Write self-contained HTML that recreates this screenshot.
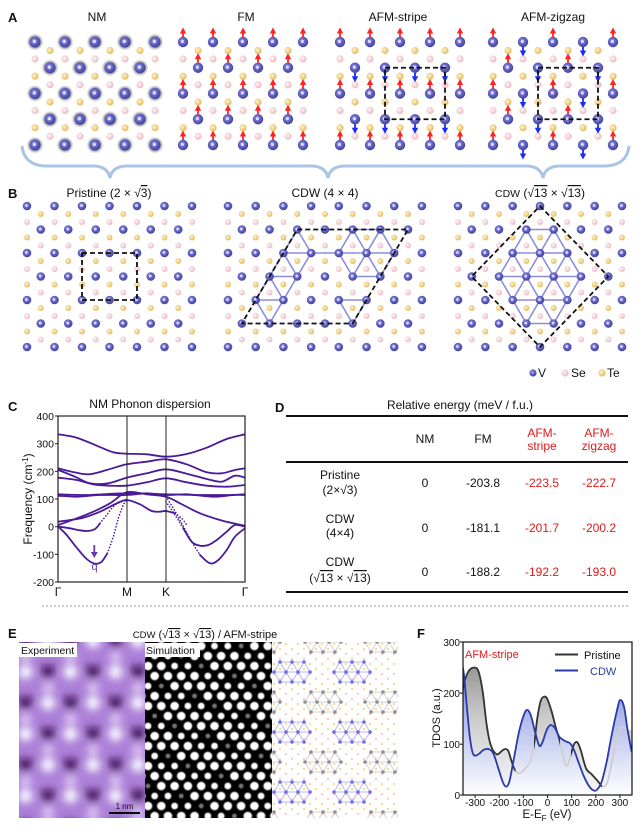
<!DOCTYPE html>
<html><head><meta charset="utf-8"><title>figure</title>
<style>
html,body{margin:0;padding:0;background:#fff;}
svg{display:block;}
text{font-family:"Liberation Sans",Arial,Helvetica,sans-serif;fill:#111;}
.b{font-weight:bold;font-size:13px;}
.t12{font-size:12px;}
.t11{font-size:11px;}
.t10{font-size:10px;}
.red{fill:#e01a1a;}
.ov{text-decoration:overline;}
</style></head><body>
<svg id="S" xmlns="http://www.w3.org/2000/svg" width="640" height="828" viewBox="0 0 640 828">
<defs>
<radialGradient id="gV" cx="0.42" cy="0.4" r="0.6"><stop offset="0" stop-color="#c8c8ff"/><stop offset="0.3" stop-color="#7676d6"/><stop offset="1" stop-color="#3f3f9c"/></radialGradient>
<radialGradient id="gSe" cx="0.4" cy="0.4" r="0.65"><stop offset="0" stop-color="#fff6f6"/><stop offset="1" stop-color="#eab4bc"/></radialGradient>
<radialGradient id="gTe" cx="0.4" cy="0.4" r="0.65"><stop offset="0" stop-color="#fff2cc"/><stop offset="1" stop-color="#e2b658"/></radialGradient>
<radialGradient id="gH"><stop offset="0.55" stop-color="#7a7a7a"/><stop offset="1" stop-color="#9a9a9a" stop-opacity="0"/></radialGradient>
<linearGradient id="gBlue" x1="0" y1="642" x2="0" y2="795" gradientUnits="userSpaceOnUse"><stop offset="0" stop-color="#4c5cc4"/><stop offset="0.45" stop-color="#aab4e8"/><stop offset="1" stop-color="#ffffff"/></linearGradient>
<linearGradient id="gGray" x1="0" y1="642" x2="0" y2="795" gradientUnits="userSpaceOnUse"><stop offset="0" stop-color="#7e7e7e"/><stop offset="0.5" stop-color="#cccccc"/><stop offset="1" stop-color="#f8f8f8"/></linearGradient>
<clipPath id="cF"><rect x="463" y="642" width="169" height="153"/></clipPath>
<clipPath id="cFb"><rect x="460" y="630" width="55.5" height="170"/><rect x="534" y="630" width="26" height="170"/><rect x="571" y="630" width="31" height="170"/></clipPath>
<clipPath id="cC"><rect x="58" y="416" width="187" height="166"/></clipPath>
<clipPath id="cE1"><rect x="19" y="642" width="126" height="176"/></clipPath>
<clipPath id="cE2"><rect x="145" y="642" width="127" height="176"/></clipPath>
<clipPath id="cE3"><rect x="272" y="642" width="126" height="176"/></clipPath>
<filter id="blur4" x="-20%" y="-20%" width="140%" height="140%"><feGaussianBlur stdDeviation="4"/></filter>
<filter id="blur06" x="-10%" y="-10%" width="120%" height="120%"><feGaussianBlur stdDeviation="0.6"/></filter>
</defs>

<!-- brace -->
<path d="M22,146 Q24,165 45,166 L95,166 Q108,167 110,178 Q112,167 125,166 L313,166 Q326,167 328,178 Q330,167 343,166 L528,166 Q541,167 543,178 Q545,167 558,166 L606,166 Q627,165 629,146" fill="none" stroke="#aac4e6" stroke-width="3"/>

<g id="gA"></g>
<g id="gB"></g>
<g id="gC"></g>
<g id="gE1" clip-path="url(#cE1)"></g>
<g id="gE2" clip-path="url(#cE2)"></g>
<g id="gE3" clip-path="url(#cE3)"></g>
<g id="gF"></g>

<!-- Panel A text -->
<text x="8" y="22" class="b">A</text>
<text x="97" y="21" text-anchor="middle" class="t12">NM</text>
<text x="246" y="21" text-anchor="middle" class="t12">FM</text>
<text x="398" y="21" text-anchor="middle" class="t12">AFM-stripe</text>
<text x="553" y="21" text-anchor="middle" class="t12">AFM-zigzag</text>

<!-- Panel B text -->
<text x="8" y="198" class="b">B</text>
<text x="109" y="197" text-anchor="middle" class="t12">Pristine (2 × √<tspan class="ov">3</tspan>)</text>
<text x="325" y="197" text-anchor="middle" class="t12">CDW (4 × 4)</text>
<text x="540" y="197" text-anchor="middle" class="t12"><tspan style="font-size:10.5px">CDW</tspan> (√<tspan class="ov">13</tspan> × √<tspan class="ov">13</tspan>)</text>

<!-- legend -->
<circle cx="533" cy="373" r="3.6" fill="url(#gV)"/>
<text x="538" y="377" class="t12">V</text>
<circle cx="565" cy="373" r="3.6" fill="url(#gSe)"/>
<text x="571" y="377" class="t12">Se</text>
<circle cx="602" cy="373" r="3.6" fill="url(#gTe)"/>
<text x="607" y="377" class="t12">Te</text>

<!-- Panel C -->
<text x="8" y="411" class="b">C</text>
<text x="150" y="408" text-anchor="middle" class="t12">NM Phonon dispersion</text>
<g class="t10">
<text x="54" y="420" text-anchor="end" style="font-size:10.5px">400</text>
<text x="54" y="447.7" text-anchor="end" style="font-size:10.5px">300</text>
<text x="54" y="475.3" text-anchor="end" style="font-size:10.5px">200</text>
<text x="54" y="503" text-anchor="end" style="font-size:10.5px">100</text>
<text x="54" y="530.7" text-anchor="end" style="font-size:10.5px">0</text>
<text x="54" y="558.3" text-anchor="end" style="font-size:10.5px">-100</text>
<text x="54" y="586" text-anchor="end" style="font-size:10.5px">-200</text>
</g>
<text x="58" y="596" text-anchor="middle" class="t12">Γ</text>
<text x="127" y="596" text-anchor="middle" class="t12">M</text>
<text x="166" y="596" text-anchor="middle" class="t12">K</text>
<text x="245" y="596" text-anchor="middle" class="t12">Γ</text>
<text transform="translate(32,499) rotate(-90)" text-anchor="middle" class="t12">Frequency (cm<tspan dy="-4" style="font-size:8px">-1</tspan><tspan dy="4">)</tspan></text>
<text x="94.5" y="570" text-anchor="middle" style="font-size:11px;fill:#6a3aa8">q</text>

<!-- Panel D -->
<text x="275" y="412" class="b">D</text>
<text x="460" y="409" text-anchor="middle" class="t12">Relative energy (meV / f.u.)</text>
<line x1="286" y1="416" x2="628" y2="416" stroke="#111" stroke-width="2"/>
<line x1="286" y1="462" x2="628" y2="462" stroke="#111" stroke-width="2"/>
<line x1="286" y1="592" x2="628" y2="592" stroke="#111" stroke-width="2"/>
<g class="t12" text-anchor="middle">
<text x="425" y="443">NM</text>
<text x="483" y="443">FM</text>
<text x="542" y="437" class="red">AFM-</text>
<text x="542" y="450" class="red">stripe</text>
<text x="599" y="437" class="red">AFM-</text>
<text x="599" y="450" class="red">zigzag</text>
<text x="340" y="479">Pristine</text>
<text x="340" y="494">(2×√3)</text>
<text x="425" y="487">0</text>
<text x="483" y="487">-203.8</text>
<text x="542" y="487" class="red">-223.5</text>
<text x="599" y="487" class="red">-222.7</text>
<text x="340" y="523">CDW</text>
<text x="340" y="537">(4×4)</text>
<text x="425" y="532">0</text>
<text x="483" y="532">-181.1</text>
<text x="542" y="532" class="red">-201.7</text>
<text x="599" y="532" class="red">-200.2</text>
<text x="340" y="566">CDW</text>
<text x="340" y="582">(√<tspan class="ov">13</tspan> × √<tspan class="ov">13</tspan>)</text>
<text x="425" y="576">0</text>
<text x="483" y="576">-188.2</text>
<text x="542" y="576" class="red">-192.2</text>
<text x="599" y="576" class="red">-193.0</text>
</g>

<line x1="42" y1="606" x2="630" y2="606" stroke="#9a9a9a" stroke-width="1" stroke-dasharray="2,2"/>

<!-- Panel E text -->
<text x="8" y="638" class="b">E</text>
<text x="205" y="638" text-anchor="middle" class="t11"><tspan style="font-size:9.5px">CDW</tspan> (√<tspan class="ov">13</tspan> × √<tspan class="ov">13</tspan>) / AFM-stripe</text>
<rect x="19" y="643" width="58" height="14" fill="#fff"/>
<text x="21" y="654" style="font-size:10.5px">Experiment</text>
<rect x="145" y="643" width="55" height="14" fill="#fff"/>
<text x="146" y="654" style="font-size:10.5px">Simulation</text>
<line x1="109" y1="813" x2="140" y2="813" stroke="#000" stroke-width="2"/>
<text x="124.5" y="809" text-anchor="middle" style="font-size:8px">1 nm</text>

<!-- Panel F text -->
<text x="417" y="638" class="b">F</text>
<g class="t10">
<text x="460" y="646" text-anchor="end">300</text>
<text x="460" y="697" text-anchor="end">200</text>
<text x="460" y="748" text-anchor="end">100</text>
<text x="460" y="799" text-anchor="end">0</text>
<text x="475.1" y="806" text-anchor="middle">-300</text>
<text x="499.2" y="806" text-anchor="middle">-200</text>
<text x="523.4" y="806" text-anchor="middle">-100</text>
<text x="547.5" y="806" text-anchor="middle">0</text>
<text x="571.6" y="806" text-anchor="middle">100</text>
<text x="595.8" y="806" text-anchor="middle">200</text>
<text x="619.9" y="806" text-anchor="middle">300</text>
</g>
<text x="547" y="818" text-anchor="middle" style="font-size:11.5px">E-E<tspan dy="3" style="font-size:8px">F</tspan><tspan dy="-3"> (eV)</tspan></text>
<text transform="translate(440,718) rotate(-90)" text-anchor="middle" class="t11">TDOS (a.u.)</text>
<text x="465" y="658" class="t11 red">AFM-stripe</text>
<line x1="555" y1="654.5" x2="578" y2="654.5" stroke="#333" stroke-width="2"/>
<text x="584" y="659" class="t11">Pristine</text>
<line x1="555" y1="670.5" x2="578" y2="670.5" stroke="#2a3aa8" stroke-width="2"/>
<text x="590" y="675" class="t11" style="fill:#2a3aa8">CDW</text>
</svg>

<script>
(function(){
const NS='http://www.w3.org/2000/svg';
function E(tag,a,p){const e=document.createElementNS(NS,tag);for(const k in a)e.setAttribute(k,a[k]);p.appendChild(e);return e;}
function $(id){return document.getElementById(id);}
function vat(g,x,y,r){E('circle',{cx:x,cy:y,r:r,fill:'url(#gV)'},g);E('circle',{cx:x-r*0.12,cy:y-r*0.1,r:r*0.3,fill:'#dcdcff'},g);}
function sm(g,x,y,r,t){E('circle',{cx:x,cy:y,r:r,fill:t=='Se'?'url(#gSe)':'url(#gTe)'},g);}
function arrow(g,x,y,up){const c=up?'#f22':'#1a2cf5';
 if(up){E('rect',{x:x-0.9,y:y-9.5,width:1.8,height:4.5,fill:c},g);E('polygon',{points:(x-3.2)+','+(y-8.5)+' '+(x+3.2)+','+(y-8.5)+' '+x+','+(y-14.5),fill:c},g);}
 else{E('rect',{x:x-0.9,y:y+5,width:1.8,height:4.5,fill:c},g);E('polygon',{points:(x-3.2)+','+(y+8.5)+' '+(x+3.2)+','+(y+8.5)+' '+x+','+(y+14.5),fill:c},g);}
}
// Panel A
const gA=$('gA');
const Ay=[42,67.75,93.5,119.25,145];
function setX(x0,i){const r=[];if(i%2==0){for(let k=0;k<5;k++)r.push(x0+30*k);}else{for(let k=0;k<4;k++)r.push(x0+15+30*k);}return r;}
function panelA(x0,mode){
 for(let i=0;i<4;i++){const y=Ay[i];
  setX(x0,i+1).forEach(x=>sm(gA,x,y+8.5,3.6,'Te'));
  setX(x0,i).forEach(x=>sm(gA,x,y+17,3.6,'Se'));}
 for(let i=0;i<5;i++){const y=Ay[i];
  setX(x0,i).forEach(x=>{
   if(mode=='NM')E('circle',{cx:x,cy:y,r:8.5,fill:'url(#gH)'},gA);
   vat(gA,x,y,mode=='NM'?5.5:5.2);
   let up=null;
   if(mode=='FM')up=true;else if(mode=='S')up=(i%2==0);else if(mode=='Z'){const p=Math.round((x-x0)/15);up=(p%4<2);}
   if(up!==null)arrow(gA,x,y,up);
  });}
}
panelA(35,'NM');panelA(183,'FM');panelA(340,'S');panelA(493,'Z');
E('rect',{x:385,y:67.75,width:60,height:51.5,fill:'none',stroke:'#111','stroke-width':1.8,'stroke-dasharray':'5,3'},gA);
E('rect',{x:538,y:67.75,width:60,height:51.5,fill:'none',stroke:'#111','stroke-width':1.8,'stroke-dasharray':'5,3'},gA);

// Panel B
const gB=$('gB');
function panelB(x0,s,n,clusters,poly){
 const pos=(i,k)=>[x0+(i%2?s/2:0)+s*k,206+23.5*i];
 const cnt=i=>i%2?n-1:n;
 for(let i=0;i<6;i++){
  for(let k=0;k<cnt(i+1);k++){const p=pos(i+1,k);sm(gB,p[0],206+23.5*i+8,3,'Te');}
  for(let k=0;k<cnt(i);k++){const p=pos(i,k);sm(gB,p[0],p[1]+16,3,'Se');}
 }
 clusters.forEach(list=>{
  const P=list.map(([i,k])=>[i].concat(pos(i,k)));
  for(let a=0;a<P.length;a++)for(let b=a+1;b<P.length;b++){
   const di=Math.abs(P[a][0]-P[b][0]),dx=Math.abs(P[a][1]-P[b][1]);
   if((di==0&&Math.abs(dx-s)<1)||(di==1&&Math.abs(dx-s/2)<1))
    E('line',{x1:P[a][1],y1:P[a][2],x2:P[b][1],y2:P[b][2],stroke:'#8c8ce0','stroke-width':1.6},gB);
  }});
 for(let i=0;i<7;i++)for(let k=0;k<cnt(i);k++){const p=pos(i,k);vat(gB,p[0],p[1],4.3);}
 const pts=poly.map(([i,k])=>pos(i,k).join(',')).join(' ');
 E('polygon',{points:pts,fill:'none',stroke:'#111','stroke-width':1.8,'stroke-dasharray':'5,3'},gB);
}
panelB(27,27.5,7,[],[[2,2],[2,4],[4,4],[4,2]]);
panelB(228,27.7,8,[
 [[1,2],[2,2],[2,3],[3,1],[3,2],[4,1],[4,2],[5,1]],
 [[1,4],[1,5],[2,4],[2,5],[2,6],[3,4],[3,5]],
 [[4,4],[4,5],[5,4]],[[2,3],[2,4]]
],[[1,2],[1,6],[5,4],[5,0]]);
panelB(458,27.33,7,[
 [[1,2],[1,3],[2,2],[2,3],[2,4],[3,1],[3,2],[3,3],[3,4],[4,2],[4,3],[4,4],[5,2],[5,3]]
],[[0,3],[3,5],[6,3],[3,0]]);

// Catmull-Rom path
function path(pts){
 let d='M'+pts[0][0].toFixed(1)+','+pts[0][1].toFixed(1);
 for(let i=0;i<pts.length-1;i++){
  const p0=pts[i-1]||pts[i],p1=pts[i],p2=pts[i+1],p3=pts[i+2]||p2;
  const c1=[p1[0]+(p2[0]-p0[0])/6,p1[1]+(p2[1]-p0[1])/6];
  const c2=[p2[0]-(p3[0]-p1[0])/6,p2[1]-(p3[1]-p1[1])/6];
  d+=' C'+c1[0].toFixed(1)+','+c1[1].toFixed(1)+' '+c2[0].toFixed(1)+','+c2[1].toFixed(1)+' '+p2[0].toFixed(1)+','+p2[1].toFixed(1);
 }
 return d;
}
// Panel C
const gC=$('gC');
const cc=a=>a.map(([x,y])=>[x/3,355+y/3]);
const gCc=E('g',{'clip-path':'url(#cC)'},gC);
const solid=[
 [[175,238],[230,248],[290,272],[340,292],[380,296],[440,298],[498,305],[560,297],[620,278],[680,252],[735,238]],
 [[175,340],[215,350],[265,358],[320,345],[380,328],[440,320],[498,313],[560,328],[620,352],[665,355],[705,345],[735,340]],
 [[175,345],[225,365],[270,385],[325,385],[380,368],[440,355],[498,343],[560,356],[620,372],[665,380],[705,362],[735,368]],
 [[175,368],[230,375],[280,388],[330,392],[380,392],[440,382],[498,370],[560,382],[620,392],[680,395],[735,390]],
 [[175,418],[260,420],[380,415],[498,418],[600,420],[680,420],[735,418]],
 [[175,422],[230,425],[300,420],[380,420],[440,415],[498,420],[560,418],[640,425],[700,420],[735,420]],
 [[175,500],[210,495],[250,488],[300,470],[350,445],[380,435],[420,448],[455,468],[480,470],[498,468],[525,475]],
 [[175,510],[230,490],[280,470],[330,445],[380,412],[440,418],[498,425],[540,445],[600,475],[660,495],[700,505],[735,512]],
 [[175,515],[210,520],[240,526],[262,528],[285,522],[300,505]],
 [[175,515],[200,540],[230,578],[260,612],[285,626],[305,620],[322,595]],
 [[600,600],[630,625],[655,615],[680,585],[705,545],[735,520]],
 [[550,520],[575,560],[600,572],[625,570],[650,555],[680,530],[705,510],[735,515]]
];
const dotted=[
 [[525,475],[545,490],[562,512]],
 [[300,505],[320,480],[345,450],[380,435]],
 [[322,595],[340,545],[355,490],[370,450],[380,438]],
 [[498,425],[520,460],[545,505],[575,560],[600,600]],
 [[498,440],[525,480],[550,520]]
];
solid.forEach(b=>E('path',{d:path(cc(b)),fill:'none',stroke:'#4a1a9a','stroke-width':1.8,'stroke-linecap':'round'},gCc));
dotted.forEach(b=>E('path',{d:path(cc(b)),fill:'none',stroke:'#4a1a9a','stroke-width':1.6,'stroke-dasharray':'0.1,3','stroke-linecap':'round'},gCc));
E('line',{x1:127,y1:416,x2:127,y2:582,stroke:'#222','stroke-width':1},gC);
E('line',{x1:166,y1:416,x2:166,y2:582,stroke:'#222','stroke-width':1},gC);
E('rect',{x:58,y:416,width:187,height:166,fill:'none',stroke:'#222','stroke-width':1.2},gC);
for(let n=0;n<7;n++){const y=416+27.67*n;E('line',{x1:55,y1:y,x2:58,y2:y,stroke:'#222','stroke-width':1},gC);}
E('line',{x1:94.3,y1:545,x2:94.3,y2:553,stroke:'#6a3aa8','stroke-width':1.8},gC);
E('polygon',{points:'90.8,552 97.8,552 94.3,558',fill:'#6a3aa8'},gC);

// Panel E experiment
const gE1=$('gE1');
E('rect',{x:19,y:642,width:126,height:176,fill:'#ad80d8'},gE1);
const gb=E('g',{filter:'url(#blur4)'},gE1);
for(let r=0;r<7;r++){const y=641+31*r;const off=(r%2)?48:25.5;
 for(let k=-1;k<4;k++){const x=off+45*k;
  E('circle',{cx:x,cy:y+16,r:6,fill:'#dcc6f2'},gb);
  E('polygon',{points:(x-9)+','+(y-6)+' '+(x+9)+','+(y-6)+' '+x+','+(y+9),fill:'#3f1056'},gb);
  E('circle',{cx:x+22.5,cy:y,r:7,fill:'#f6f8ff'},gb);
 }}
// simulation
const gE2=$('gE2');
E('rect',{x:145,y:642,width:127,height:176,fill:'#000'},gE2);
const gs=E('g',{filter:'url(#blur06)'},gE2);
for(let r=0;r<18;r++){const y=646+10*r;for(let c=-1;c<10;c++){const x=148+13.3*c+(r%2?6.65:0);
 const m=(((c*2+r*3)%7)+7)%7;
 let rad=4.3,f='#fff';if(m==0){rad=2.4;f='#777';}else if(m==3||m==5){rad=3.4;}
 E('circle',{cx:x,cy:y,r:rad,fill:f},gs);}}
// lattice
const gE3=$('gE3');
E('rect',{x:272,y:642,width:126,height:176,fill:'#fff'},gE3);
for(let r=0;r<36;r++){const y=644+5*r;for(let c=0;c<22;c++){if((r+c)%2)continue;const x=274+6*c;
 E('circle',{cx:x,cy:y,r:0.9,fill:(r%4<2)?'#f2c040':'#f4a8a8'},gE3);}}
function cluster(cx,cy,blue){
 const P=[];const rows={'-1':[-6,6],'0':[-12,0,12],'1':[-6,6]};
 const rows2={'-1':[-12,0,12],'0':[-18,-6,6,18],'1':[-12,0,12]};
 const R=blue?rows2:rows2;
 for(const r in R)R[r].forEach(dx=>P.push([+r,cx+dx,cy+10*r]));
 const col=blue?'#8a8ae6':'#b0b0b0', dot=blue?'#7070dc':'#909090';
 for(let a=0;a<P.length;a++)for(let b=a+1;b<P.length;b++){
  const di=Math.abs(P[a][0]-P[b][0]),dx=Math.abs(P[a][1]-P[b][1]);
  if((di==0&&Math.abs(dx-12)<0.5)||(di==1&&Math.abs(dx-6)<0.5)){
   E('line',{x1:P[a][1],y1:P[a][2],x2:P[b][1],y2:P[b][2],stroke:col,'stroke-width':1,'stroke-opacity':0.6},gE3);}
 }
 P.forEach(p=>E('circle',{cx:p[1],cy:p[2],r:1.8,fill:dot},gE3));
}
[[292,672],[352,672],[292,732],[352,732],[292,792],[352,792]].forEach(c=>cluster(c[0],c[1],true));
[[323,702],[383,702],[323,762],[383,762],[323,642],[383,642],[323,822],[383,822],[262,702],[262,762],[262,642],[262,822]].forEach(c=>cluster(c[0],c[1],false));

// Panel F
const gF=$('gF');
const fc=a=>a.map(([x,y])=>[300+x/3,595+y/3]);
const pri=fc([[486,300],[493,262],[505,230],[520,218],[535,228],[548,290],[560,390],[572,450],[590,478],[605,468],[615,462],[625,468],[635,500],[645,525],[658,535],[672,525],[690,500],[702,450],[712,370],[722,318],[732,305],[742,312],[755,350],[768,400],[780,440],[792,495],[802,512],[812,480],[822,448],[832,442],[842,465],[858,520],[875,538],[895,560],[908,575],[922,562],[937,495],[952,425],[966,395],[980,405],[995,410]]);
const blu=fc([[486,205],[492,240],[500,330],[510,430],[520,478],[535,478],[550,465],[565,462],[580,475],[595,520],[608,560],[618,575],[628,560],[640,500],[655,420],[668,370],[680,345],[692,360],[705,410],[718,452],[728,440],[740,405],[752,390],[765,400],[778,425],[795,438],[810,445],[822,465],[835,500],[850,540],[865,570],[878,585],[890,585],[905,560],[920,500],[935,420],[950,350],[960,315],[972,335],[982,400],[995,470]]);
const gFc=E('g',{'clip-path':'url(#cF)'},gF);
const dp=path(pri),db=path(blu);
E('path',{d:dp+' L632,795 L462,795 Z',fill:'url(#gGray)'},gFc);
E('path',{d:db+' L632,795 L462,795 Z',fill:'url(#gBlue)'},gFc);
E('path',{d:dp,fill:'none',stroke:'#cfcfcf','stroke-width':1.8},gFc);
const gblk=E('g',{'clip-path':'url(#cFb)'},gFc);
E('path',{d:dp,fill:'none',stroke:'#333','stroke-width':1.8},gblk);
E('path',{d:db,fill:'none',stroke:'#2a3aa8','stroke-width':1.8},gFc);
E('rect',{x:463,y:642,width:169,height:153,fill:'none',stroke:'#111','stroke-width':1.2},gF);
[642,693.1,744.2,795].forEach(y=>E('line',{x1:460,y1:y,x2:463,y2:y,stroke:'#111','stroke-width':1},gF));
[-300,-200,-100,0,100,200,300].forEach(v=>{const x=547.5+0.2414*v;E('line',{x1:x,y1:795,x2:x,y2:798,stroke:'#111','stroke-width':1},gF);});
})();
</script>
</body></html>
